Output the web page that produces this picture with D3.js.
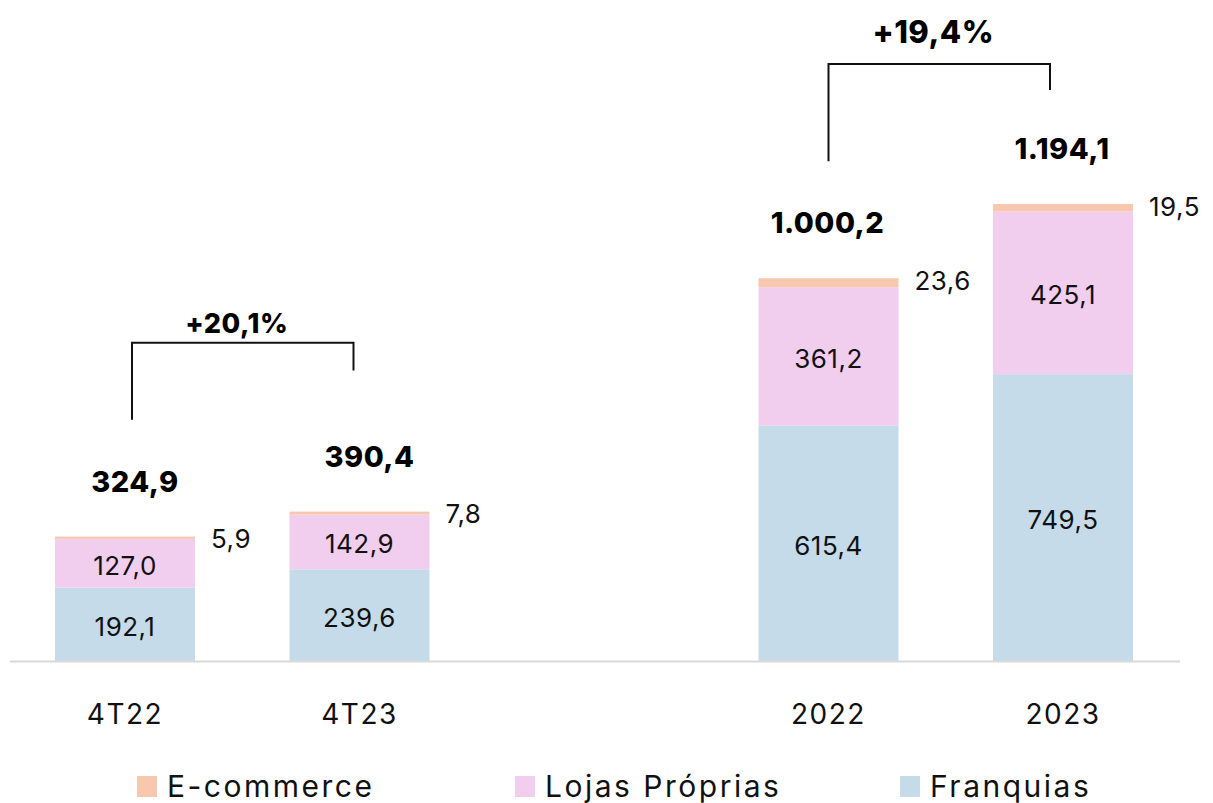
<!DOCTYPE html>
<html><head><meta charset="utf-8">
<script src="https://cdn.jsdelivr.net/npm/d3@7"></script>
<style>body{margin:0;background:#fff;}svg{display:block;font-family:Inter, "Open Sans", sans-serif;}</style>
</head><body><svg id="c" width="1213" height="803"></svg>
<script>
const categories = ["4T22","4T23","","2022","2023"];
const franquias   = [192.1, 239.6, null, 615.4, 749.5];
const lojas       = [127.0, 142.9, null, 361.2, 425.1];
const ecommerce   = [5.9, 7.8, null, 23.6, 19.5];
const totalLabels = ["324,9","390,4","","1.000,2","1.194,1"];
const totals      = [324.9, 390.4, null, 1000.2, 1194.1];
const seriesNames = ["E-commerce","Lojas Próprias","Franquias"];
const colors = {"Franquias":"#C5DBE9","Lojas Próprias":"#F1CDEE","E-commerce":"#F7C8AE"};
const growth = [{from:"4T22",to:"4T23",label:"+20,1%"},{from:"2022",to:"2023",label:"+19,4%"}];

const fmt = v => d3.format(".1f")(v).replace(".",",");
const svg = d3.select("#c");
const x = d3.scaleBand().domain(categories).range([7.75,1180.25]).paddingInner(0.403).paddingOuter(0.2015);
const y = d3.scaleLinear().domain([0,1194.1]).range([661,204]);

const rows = categories.map((c,i)=>({cat:c,"Franquias":franquias[i],"Lojas Próprias":lojas[i],"E-commerce":ecommerce[i],total:totals[i],tl:totalLabels[i]})).filter(d=>d.cat!=="");
const stack = d3.stack().keys(["Franquias","Lojas Próprias","E-commerce"])(rows);

svg.append("g").selectAll("g").data(stack).join("g").attr("fill",s=>colors[s.key])
  .selectAll("rect").data(s=>s.map(p=>({p,key:s.key}))).join("rect")
  .attr("x",d=>x(d.p.data.cat)).attr("width",x.bandwidth())
  .attr("y",d=>y(d.p[1])).attr("height",d=>y(d.p[0])-y(d.p[1]));

// axis line
svg.append("line").attr("x1",10).attr("x2",1180).attr("y1",y(0)+0.5).attr("y2",y(0)+0.5).attr("stroke","#D9D9D9").attr("stroke-width",2);

// segment labels
stack.slice(0,2).forEach(s=>{
  svg.append("g").selectAll("text").data(s).join("text")
    .attr("x",d=>x(d.data.cat)+x.bandwidth()/2).attr("y",d=>(y(d[0])+y(d[1]))/2+2)
    .attr("text-anchor","middle").attr("dominant-baseline","central")
    .attr("font-size",26).attr("letter-spacing",0.5).attr("fill","#111").text(d=>fmt(d.data[s.key]));
});
// ecommerce labels
svg.append("g").selectAll("text").data(rows).join("text")
  .attr("x",d=>x(d.cat)+x.bandwidth()+16).attr("y",d=>y(d.total)+2)
  .attr("dominant-baseline","central").attr("font-size",26).attr("letter-spacing",0.5).attr("fill","#111")
  .text(d=>fmt(d["E-commerce"]));
// totals
svg.append("g").selectAll("text").data(rows).join("text")
  .attr("x",d=>x(d.cat)+x.bandwidth()/2+ (d.total>900?-1:10)).attr("y",d=>y(d.total)-45)
  .attr("text-anchor","middle").attr("font-size",29).attr("font-weight",800).attr("letter-spacing",0.5).attr("fill","#000")
  .text(d=>d.tl);

// x labels
svg.append("g").selectAll("text").data(rows).join("text")
  .attr("x",d=>x(d.cat)+x.bandwidth()/2).attr("y",724)
  .attr("text-anchor","middle").attr("font-size",28).attr("letter-spacing",1.5).attr("fill","#111").text(d=>d.cat);

// growth brackets
const tot = c => totals[categories.indexOf(c)];
growth.forEach((g,i)=>{
  const x1 = x(g.from)+x.bandwidth()/2+ (i===0?7:0);
  const x2 = x(g.to)+x.bandwidth()/2 - (i===0?6:13);
  const yTop = i===0 ? y(tot(g.from))-194 : y(tot(g.to))-140;
  const yL = y(tot(g.from))-117;
  const yR = y(tot(g.to))-141 + (i===0?0:27);
  svg.append("path").attr("d",`M${x1},${yL}V${yTop}H${x2}V${yR}`).attr("fill","none").attr("stroke","#111").attr("stroke-width",2);
  svg.append("text").attr("x",(x1+x2)/2-6).attr("y",yTop-(i===0?10:21)).attr("text-anchor","middle")
    .attr("font-size",i===0?27:31).attr("font-weight",800).attr("letter-spacing",0.5).attr("fill","#000").text(g.label);
});

// legend
const legX = [137,515,900];
const lg = svg.append("g").selectAll("g").data(seriesNames).join("g").attr("transform",(d,i)=>`translate(${legX[i]},776)`);
lg.append("rect").attr("width",20).attr("height",21).attr("fill",d=>colors[d]);
lg.append("text").attr("x",30).attr("y",10).attr("dominant-baseline","central").attr("font-size",30).attr("letter-spacing",2.5).attr("fill","#111").text(d=>d);
</script></body></html>
